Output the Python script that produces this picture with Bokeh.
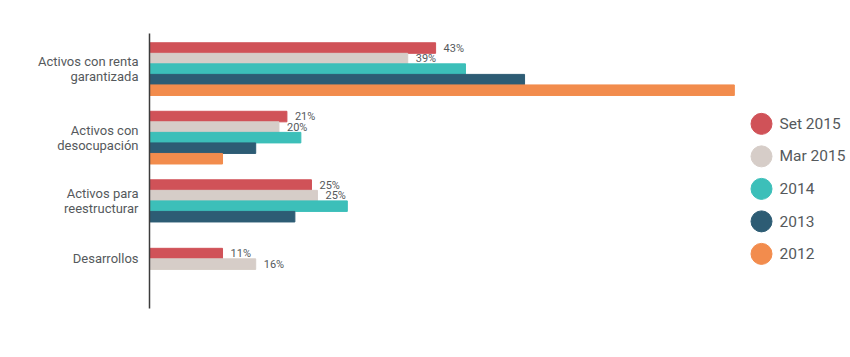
from bokeh.plotting import figure
from bokeh.models import Range1d, FixedTicker, ColumnDataSource
from bokeh.embed import file_html
from bokeh.resources import INLINE
from bokeh.core.properties import value

# ---- data ----
categories = ["Activos con renta\ngarantizada", "Activos con\ndesocupación",
              "Activos para\nreestructurar", "Desarrollos"]
series = ["Set 2015", "Mar 2015", "2014", "2013", "2012"]
colors = ["#d05258", "#d6cdc8", "#3cbfb9", "#2d5c74", "#f28c4d"]
set_2015 = [43.1, 20.7, 24.4, 11.0]
mar_2015 = [38.9, 19.5, 25.3, 16.0]
y2014 = [47.6, 22.8, 29.8, None]
y2013 = [56.5, 16.0, 21.9, None]
y2012 = [88.1, 11.0, None, None]
set_labels = ["43%", "21%", "25%", "11%"]
mar_labels = ["39%", "20%", "25%", "16%"]

all_values = [set_2015, mar_2015, y2014, y2013, y2012]
value_labels = [set_labels, mar_labels, None, None, None]

GROUP_PITCH = 6.5
TEXT = "#55595c"
FONT = "Roboto"

p = figure(width=850, height=357, output_backend="svg", toolbar_location=None,
           x_range=Range1d(0, 105.6), y_range=Range1d(25.21, -0.88),
           min_border_left=149, min_border_right=0, min_border_top=33,
           min_border_bottom=49, x_axis_location=None)
p.outline_line_color = None
p.xgrid.visible = False
p.ygrid.visible = False
p.background_fill_color = "white"
p.border_fill_color = "white"

group_slots = [[] for _ in categories]
for s, vals in enumerate(all_values):
    ys, rs, ls = [], [], []
    for g, v in enumerate(vals):
        if v is None:
            continue
        y = g * GROUP_PITCH + s + 0.5
        group_slots[g].append(y)
        ys.append(y)
        rs.append(v)
        if value_labels[s] is not None:
            ls.append(value_labels[s][g])
    src = ColumnDataSource(dict(y=ys, right=rs))
    p.hbar(y="y", left=0, right="right", height=1.0, color=colors[s], source=src)
    if value_labels[s] is not None:
        tsrc = ColumnDataSource(dict(x=rs, y=ys, t=ls))
        p.text(x="x", y="y", text="t", source=tsrc, x_offset=8,
               text_baseline="middle", text_align="left",
               text_font=value(FONT), text_font_size="11px", text_color=TEXT)

ticks = [sum(sl) / len(sl) for sl in group_slots]
ax = p.yaxis[0]
ax.ticker = FixedTicker(ticks=ticks)
ax.major_label_overrides = {t: c for t, c in zip(ticks, categories)}
ax.major_tick_line_color = None
ax.minor_tick_line_color = None
ax.major_tick_out = 0
ax.major_tick_in = 0
ax.major_label_standoff = 11
ax.axis_line_color = "#3c3c3c"
ax.axis_line_width = 1.5
ax.major_label_text_font = FONT
ax.major_label_text_font_size = "13px"
ax.major_label_text_line_height = 1.0
ax.major_label_text_color = TEXT

# ---- legend (right side) ----
p.extra_x_ranges["leg"] = Range1d(-612, 89)
p.extra_y_ranges["leg"] = Range1d(5.68, -2.78)
leg_idx = list(range(len(series)))
lsrc = ColumnDataSource(dict(x=[0] * len(series), y=leg_idx, c=colors, t=series))
p.scatter(x="x", y="y", size=21, color="c", source=lsrc,
          x_range_name="leg", y_range_name="leg")
p.text(x="x", y="y", text="t", source=lsrc, x_offset=18, text_baseline="middle",
       text_align="left", text_font=value(FONT), text_font_size="15.5px",
       text_color=TEXT, x_range_name="leg", y_range_name="leg")

open("out.html", "w").write(file_html(p, INLINE))
